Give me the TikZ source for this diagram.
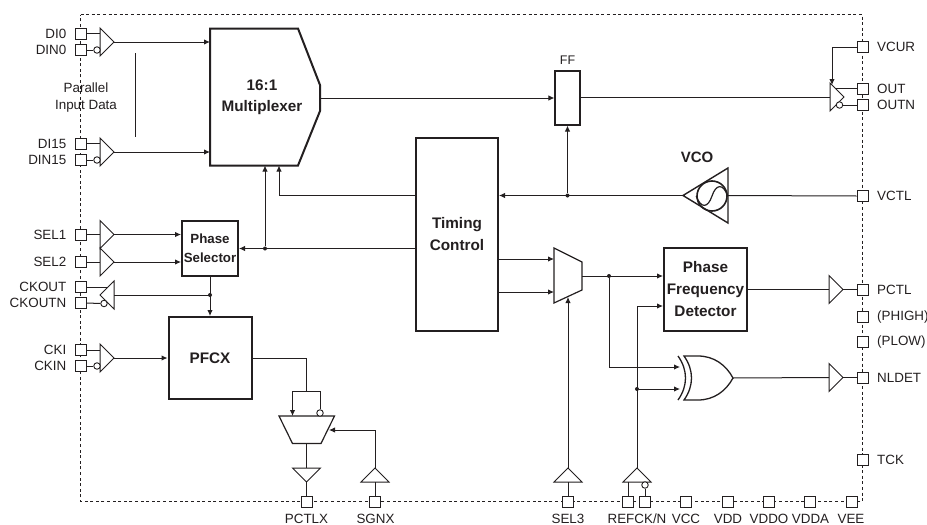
\documentclass[tikz,border=0pt]{standalone}
\usepackage{fontspec}
\setmainfont{Liberation Sans}
\usetikzlibrary{arrows.meta,calc}
\definecolor{ink}{HTML}{231F20}
\tikzset{
  wire/.style={draw=ink,line width=1pt},
  arr/.style={wire,-{Latex[length=6pt,width=5.5pt]}},
  heavy/.style={draw=ink,line width=2pt,line join=miter},
  gate/.style={draw=ink,line width=1pt,fill=white,line join=miter},
  blockbox/.style={heavy,fill=white,inner sep=0pt,align=center,text=ink,font=\bfseries\fontsize{15.3}{22}\selectfont},
  pinbox/.style={draw=ink,line width=0.8pt,fill=white,minimum size=11pt,inner sep=0pt},
  pinlab/.style={text=ink,inner sep=0pt,font=\fontsize{13.4}{15}\selectfont},
  note/.style={text=ink,inner sep=0pt,align=center,font=\fontsize{13.4}{17}\selectfont},
  bubble/.style={circle,draw=ink,line width=0.9pt,fill=white,minimum size=6.5pt,inner sep=0pt},
  jdot/.style={circle,fill=ink,minimum size=4pt,inner sep=0pt},
}
% pin: name, x, y
\newcommand{\mkpin}[3]{\node[pinbox] (#1) at (#2,#3) {};}
% buffers: name, base coordinate, apex coordinate
\newcommand{\mkbufr}[3]{\coordinate (#1-b) at (#2,#3); \coordinate (#1-o) at (#2+14,#3);
  \draw[gate] (#2,#3-14) -- (#2+14,#3) -- (#2,#3+14) -- cycle;}
\newcommand{\mkbufl}[3]{\coordinate (#1-b) at (#2,#3); \coordinate (#1-o) at (#2-14,#3);
  \draw[gate] (#2,#3-14) -- (#2-14,#3) -- (#2,#3+14) -- cycle;}
\newcommand{\mkbufu}[3]{\coordinate (#1-b) at (#2,#3); \coordinate (#1-o) at (#2,#3-14);
  \draw[gate] (#2-14,#3) -- (#2,#3-14) -- (#2+14,#3) -- cycle;}
\newcommand{\mkbufd}[3]{\coordinate (#1-b) at (#2,#3); \coordinate (#1-o) at (#2,#3+14);
  \draw[gate] (#2-14,#3) -- (#2,#3+14) -- (#2+14,#3) -- cycle;}
\begin{document}
\begin{tikzpicture}[x=1pt,y=-1pt]
\useasboundingbox (0,0) rectangle (927,525);
% chip outline
\coordinate (cTL) at (80.5,14.5); \coordinate (cTR) at (862.5,14.5);
\coordinate (cBR) at (862.5,501.5); \coordinate (cBL) at (80.5,501.5);
\draw[draw=ink,line width=0.8pt,dash pattern=on 3pt off 2.6pt] (cTL) -- (cTR) -- (cBR) -- (cBL) -- cycle;

% pins
\mkpin{pDI0}{81}{33.5}\mkpin{pDIN0}{81}{50}\mkpin{pDI15}{81}{143.5}\mkpin{pDIN15}{81}{160}
\mkpin{pSEL1}{81}{234.5}\mkpin{pSEL2}{81}{262}\mkpin{pCKOUT}{81}{287}\mkpin{pCKOUTN}{81}{303}
\mkpin{pCKI}{81}{350}\mkpin{pCKIN}{81}{366}
\mkpin{pVCUR}{862.5}{47}\mkpin{pOUT}{862.5}{88.5}\mkpin{pOUTN}{862.5}{105}\mkpin{pVCTL}{862.5}{196}
\mkpin{pPCTL}{862.5}{289.5}\mkpin{pPHIGH}{862.5}{317}\mkpin{pPLOW}{862.5}{342}\mkpin{pNLDET}{862.5}{377.5}\mkpin{pTCK}{862.5}{460}
\mkpin{pPCTLX}{306.5}{501.5}\mkpin{pSGNX}{375}{501.5}\mkpin{pSEL3}{568}{501.5}\mkpin{pREF}{628}{501.5}\mkpin{pREFN}{645}{501.5}
\mkpin{pVCC}{686}{501.5}\mkpin{pVDD}{728}{501.5}\mkpin{pVDDO}{769}{501.5}\mkpin{pVDDA}{810}{501.5}\mkpin{pVEE}{852}{501.5}

% pin labels
\foreach \n/\t/\yy in {a/DI0/33.5,b/DIN0/50,c/DI15/143.5,d/DIN15/160,e/SEL1/234.5,f/SEL2/262,g/CKOUT/287,h/CKOUTN/303,i/CKI/350,j/CKIN/366}
  \node[pinlab,anchor=east] (l\n) at (66.5,\yy) {\t};
\foreach \n/\t/\yy in {k/VCUR/47,m/OUT/88.5,n/OUTN/105,o/VCTL/196,p/PCTL/289.5,q/(PHIGH)/317,r/(PLOW)/342,s/NLDET/377.5,t/TCK/460}
  \node[pinlab,anchor=west] (l\n) at (877,\yy) {\t};
\foreach \n/\t/\xx in {u/PCTLX/306.5,v/SGNX/375.5,w/SEL3/568,x/REFCK\slash N/637,y/VCC/686,z/VDD/728,aa/VDDO/769,ab/VDDA/810.5,ac/VEE/851}
  \node[pinlab] (l\n) at (\xx,519) {\t};
\node[note] (parlab) at (86,98) {Parallel\\Input Data};
\coordinate (busT) at (135.5,53); \coordinate (busB) at (135.5,137);
\draw[wire] (busT) -- (busB);

% multiplexer
\coordinate (mA) at (210,28.5); \coordinate (mB) at (298,28.5); \coordinate (mC) at (320,85);
\coordinate (mD) at (320,111); \coordinate (mE) at (298,165.5); \coordinate (mF) at (210,165.5);
\draw[heavy,fill=white] (mA) -- (mB) -- (mC) -- (mD) -- (mE) -- (mF) -- cycle;
\node[text=ink,align=center,inner sep=0pt,font=\bfseries\fontsize{15.3}{21}\selectfont] (muxt) at (262,97.5) {16:1\\Multiplexer};

% blocks
\node[blockbox,minimum width=82pt,minimum height=193pt] (tc) at (457,234.5) {Timing\\Control};
\node[blockbox,minimum width=56pt,minimum height=55pt,font=\bfseries\fontsize{13.3}{19}\selectfont] (ps) at (210,248.5) {Phase\\Selector};
\node[blockbox,minimum width=83pt,minimum height=82pt] (pfcx) at (210,358) {PFCX};
\node[blockbox,minimum width=83pt,minimum height=83pt] (pfd) at (705.5,289.5) {Phase\\Frequency\\Detector};
\node[draw=ink,line width=1.1pt,fill=white,minimum width=25pt,minimum height=54pt,inner sep=0pt] (ff) at (567.5,98) {};
\node[pinlab,font=\fontsize{12.5}{14}\selectfont] (fflab) at (567.5,60) {FF};

% input buffers
\mkbufr{bA}{100}{42}\mkbufr{bB}{100}{152}\mkbufr{bC}{100}{234.5}\mkbufr{bD}{100}{262}\mkbufr{bF}{100}{358}
\mkbufl{bE}{114}{295}
\mkbufr{bOut}{830}{97}\mkbufr{bP}{829}{289.5}\mkbufr{bN}{829}{377.5}
\mkbufd{bX}{306.5}{468}\mkbufu{bS}{375}{482}\mkbufu{bT}{568}{482}\mkbufu{bR}{637}{482}

\node[bubble] (n1) at (97,50) {};
\node[bubble] (n2) at (97,160) {};
\node[bubble] (n3) at (104,303.5) {};
\node[bubble] (n4) at (97,366) {};
\node[bubble] (n5) at (839.5,105) {};
\node[bubble] (n6) at (645,485) {};

% pin to buffer
\draw[wire] (pDI0.east) -- (pDI0.east -| bA-b);
\draw[wire] (pDIN0.east) -- (n1.west);
\draw[wire] (pDI15.east) -- (pDI15.east -| bB-b);
\draw[wire] (pDIN15.east) -- (n2.west);
\draw[wire] (pSEL1.east) -- (bC-b);
\draw[wire] (pSEL2.east) -- (bD-b);
\draw[wire] (pCKOUT.east) -- (pCKOUT.east -| 107,0);
\draw[wire] (pCKOUTN.east) -- (n3.west);
\draw[wire] (pCKI.east) -- (pCKI.east -| bF-b);
\draw[wire] (pCKIN.east) -- (n4.west);

% buffer to block
\draw[arr] (bA-o) -- (bA-o -| mA);
\draw[arr] (bB-o) -- (bB-o -| mF);
\draw[arr] (bC-o) -- (bC-o -| ps.west);
\draw[arr] (bD-o) -- (bD-o -| ps.west);
\draw[arr] (bF-o) -- (pfcx.west);
\draw[wire] (ps.south |- bE-b) -- (bE-b);
\draw[arr] (ps.south) -- (pfcx.north);
\node[jdot] (d1) at (ps.south |- bE-b) {};

% timing control connections
\coordinate (u1) at (265,165.5); \coordinate (u2) at (279,165.5);
\draw[arr] (tc.west |- ps.east) -- (ps.east);
\node[jdot] (d2) at (u1 |- ps.east) {};
\draw[arr] (d2) -- (u1);
\coordinate (vc) at (683,195.5);
\draw[arr] (vc) -- (vc -| tc.east);
\draw[arr] (tc.west |- vc) -- (u2 |- vc) -- (u2);
\node[jdot] (d3) at (ff.south |- vc) {};
\draw[arr] (d3) -- (ff.south);

% mux to FF to output
\coordinate (mo) at (320,98);
\draw[arr] (mo) -- (ff.west);
\draw[wire] (ff.east |- bOut-b) -- (bOut-b);
\coordinate (vcurk) at (832,47);
\draw[arr] (pVCUR.west) -- (vcurk) -- (832,85);
\draw[wire] (836,88.5) -- (pOUT.west);
\draw[wire] (n5.east) -- (pOUTN.west);

% VCO
\coordinate (vT) at (728,168); \coordinate (vB) at (728,223);
\draw[gate,line width=1.4pt] (vc) -- (vT) -- (vB) -- cycle;
\node[circle,draw=ink,line width=1.6pt,minimum size=30pt,inner sep=0pt] (vcirc) at (712,196) {};
\draw[wire,line width=1.2pt] (vcirc.west) .. controls (701,209) and (708,208) .. (vcirc.center) .. controls (716,184) and (723,183) .. (vcirc.east);
\node[text=ink,inner sep=0pt,font=\bfseries\fontsize{15}{18}\selectfont] (vcol) at (697,157) {VCO};
\draw[wire] (vT |- vc) -- (pVCTL.west);

% 2:1 mux
\coordinate (qA) at (554,248); \coordinate (qB) at (582,262); \coordinate (qC) at (582,290); \coordinate (qD) at (554,303);
\draw[gate,line width=1.2pt] (qA) -- (qB) -- (qC) -- (qD) -- cycle;
\draw[arr] (tc.east |- 0,259) -- (qA |- 0,259);
\draw[arr] (tc.east |- 0,292) -- (qA |- 0,292);
\draw[arr] (bT-o) -- (568,297);
\draw[wire] (bT-b) -- (pSEL3.north);

% XOR gate
\coordinate (xo) at (733,378);
\draw[wire,line width=1.3pt] (678,356) .. controls (688,370) and (688,386) .. (678,400);
\draw[wire,line width=1.3pt,fill=white] (684,356) -- (698,356) .. controls (714,356) and (726,365) .. (xo) .. controls (726,391) and (714,400) .. (698,400) -- (684,400) .. controls (694,386) and (694,370) .. (684,356) -- cycle;
\draw[wire] (xo) -- (bN-b);

% after 2:1 mux
\coordinate (qo) at (582,276);
\node[jdot] (d4) at (609,276) {};
\draw[arr] (qo) -- (qo -| pfd.west);
\draw[arr] (d4) -- (d4 |- 0,367) -- (680,367);
\coordinate (rk) at (637,306);
\draw[arr] (bR-o) -- (rk) -- (rk -| pfd.west);
\node[jdot] (d5) at (637,389) {};
\draw[arr] (d5) -- (680,389);
\draw[wire] (628,482) -- (pREF.north);
\draw[wire] (n6.south) -- (pREFN.north);

% outputs
\draw[wire] (pfd.east |- bP-b) -- (bP-b);
\draw[wire] (bP-o) -- (pPCTL.west);
\draw[wire] (bN-o) -- (pNLDET.west);

% PFCX output path
\coordinate (sp) at (306.5,358);
\coordinate (sq) at (306.5,391);
\coordinate (xA) at (279,416); \coordinate (xB) at (334.5,416); \coordinate (xC) at (321,443.5); \coordinate (xD) at (292.5,443.5);
\draw[gate,line width=1.2pt] (xA) -- (xB) -- (xC) -- (xD) -- cycle;
\node[bubble] (n7) at (320,413) {};
\draw[wire] (pfcx.east |- sp) -- (sp) -- (sq);
\draw[arr] (sq) -- (292.5,391) -- (292.5,416);
\draw[wire] (sq) -- (320,391) -- (n7.north);
\draw[wire] (306.5,443.5) -- (bX-b);
\draw[wire] (bX-o) -- (pPCTLX.north);
\draw[wire] (bS-b) -- (pSGNX.north);
\draw[arr] (bS-o) -- (375,430) -- (329,430);
\end{tikzpicture}
\end{document}
